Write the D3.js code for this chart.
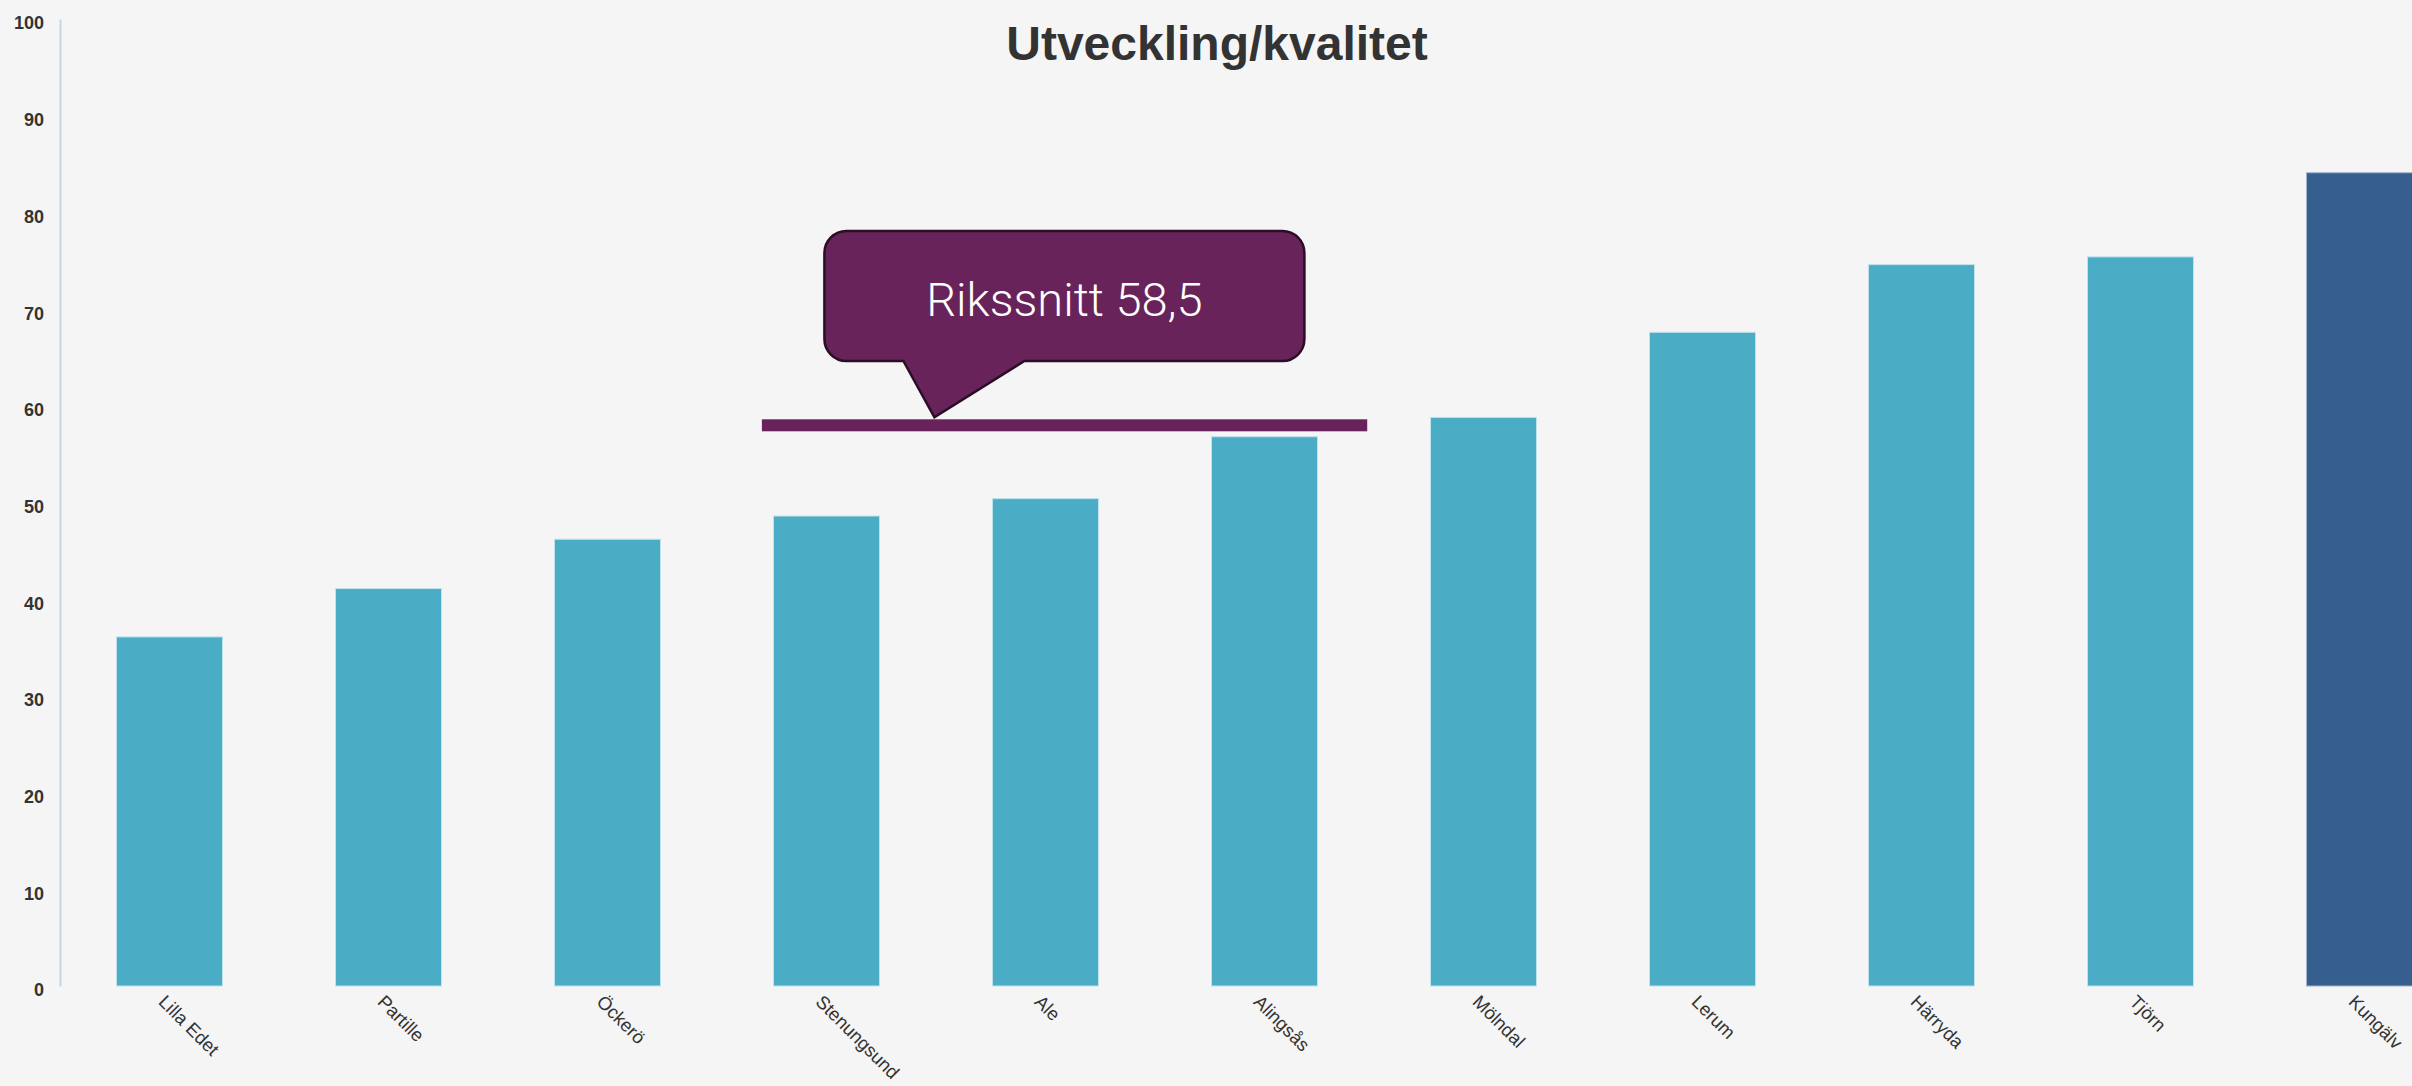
<!DOCTYPE html>
<html>
<head>
<meta charset="utf-8">
<script src="https://cdn.jsdelivr.net/npm/d3@7"></script>
<style>
  html, body { margin: 0; padding: 0; background: #f5f5f5; }
  svg { display: block; }
</style>
</head>
<body>
<svg id="chart" width="2412" height="1086"></svg>
<script>
// data
var kommuner = ["Lilla Edet", "Partille", "Öckerö", "Stenungsund", "Ale", "Alingsås",
    "Mölndal", "Lerum", "Härryda", "Tjörn", "Kungälv"];
var varden = [36.1, 41.1, 46.2, 48.6, 50.4, 56.8, 58.8, 67.6, 74.6, 75.4, 84.1];
var markerad = "Kungälv";
var yTicks = [0, 10, 20, 30, 40, 50, 60, 70, 80, 90, 100];
var rikssnitt = 58.5;
var rikssnittText = "Rikssnitt 58,5";
var titel = "Utveckling/kvalitet";

function draw_chart() {
    var svg = d3.select("svg");
    var W = +svg.attr("width"), H = +svg.attr("height");

    svg.append("rect").attr("width", W).attr("height", H).attr("fill", "#f5f5f5");

    var x = d3.scaleBand()
        .range([60, 60 + 11 * 219])
        .paddingInner(0.516)
        .paddingOuter(0.258)
        .domain(kommuner);

    var y = d3.scaleLinear()
        .range([986, 19])
        .domain([0, 100]);

    // title
    svg.append("text")
        .attr("x", 1217)
        .attr("y", 60)
        .attr("text-anchor", "middle")
        .style("font-family", "'Liberation Sans', Arial, sans-serif")
        .style("font-weight", "bold")
        .style("font-size", "48px")
        .style("fill", "#333")
        .text(titel);

    // y axis (line only + bold labels)
    var yAxis = svg.append("g")
        .attr("class", "axis axis-y")
        .attr("transform", "translate(60,0)")
        .call(d3.axisLeft(y).tickValues(yTicks).tickSize(0).tickPadding(16));
    yAxis.select(".domain").attr("stroke", "#c6d5e3").attr("stroke-width", 2);
    yAxis.selectAll("text")
        .attr("dy", "0.55em")
        .style("font-family", "'Liberation Sans', Arial, sans-serif")
        .style("font-weight", "bold")
        .style("font-size", "18px")
        .style("fill", "#333");

    // bars
    svg.append("g").selectAll("rect")
        .data(kommuner)
        .enter().append("rect")
        .attr("x", function (d) { return x(d); })
        .attr("y", function (d, i) { return y(varden[i]); })
        .attr("width", x.bandwidth())
        .attr("height", function (d, i) { return y(0) - y(varden[i]); })
        .attr("fill", function (d) { return d === markerad ? "#365f8f" : "#4bacc6"; })
        .attr("stroke", function (d) { return d === markerad ? "#9fb3cc" : "#bfe3ec"; })
        .attr("stroke-width", 1);

    // x labels, rotated
    svg.append("g").selectAll("text")
        .data(kommuner)
        .enter().append("text")
        .attr("transform", function (d) {
            return "translate(" + (x(d) + x.bandwidth() / 2 - 12) + ",1003) rotate(45)";
        })
        .style("font-family", "'Liberation Sans', Arial, sans-serif")
        .style("font-size", "18.5px")
        .style("fill", "#333")
        .text(function (d) { return d; });

    // rikssnitt line
    var step = x.step();
    var x1 = x("Stenungsund") - 0.053 * step;
    var x2 = x("Alingsås") + x.bandwidth() + 0.227 * step;
    svg.append("rect")
        .attr("x", x1)
        .attr("y", y(rikssnitt) - 1)
        .attr("width", x2 - x1)
        .attr("height", 12)
        .attr("fill", "#68235a");

    // callout bubble
    var tipX = x1 + 0.285 * (x2 - x1), tipY = y(rikssnitt) - 3;
    var L = tipX - 110, R = tipX + 370, T = 231, B = 361, r = 22;
    var b1 = tipX - 31, b2 = tipX + 90;
    var p = d3.path();
    p.moveTo(L + r, T);
    p.lineTo(R - r, T);
    p.arcTo(R, T, R, T + r, r);
    p.lineTo(R, B - r);
    p.arcTo(R, B, R - r, B, r);
    p.lineTo(b2, B);
    p.lineTo(tipX, tipY);
    p.lineTo(b1, B);
    p.lineTo(L + r, B);
    p.arcTo(L, B, L, B - r, r);
    p.lineTo(L, T + r);
    p.arcTo(L, T, L + r, T, r);
    p.closePath();
    svg.append("path")
        .attr("d", p.toString())
        .attr("fill", "#68235a")
        .attr("stroke", "#2b0d25")
        .attr("stroke-width", 2.5);

    svg.append("text")
        .attr("x", (L + R) / 2)
        .attr("y", 316)
        .attr("text-anchor", "middle")
        .style("font-family", "Roboto, sans-serif")
        .style("font-weight", 300)
        .style("font-size", "47px")
        .style("fill", "#fff")
        .text(rikssnittText);
}

draw_chart();
</script>
</body>
</html>
